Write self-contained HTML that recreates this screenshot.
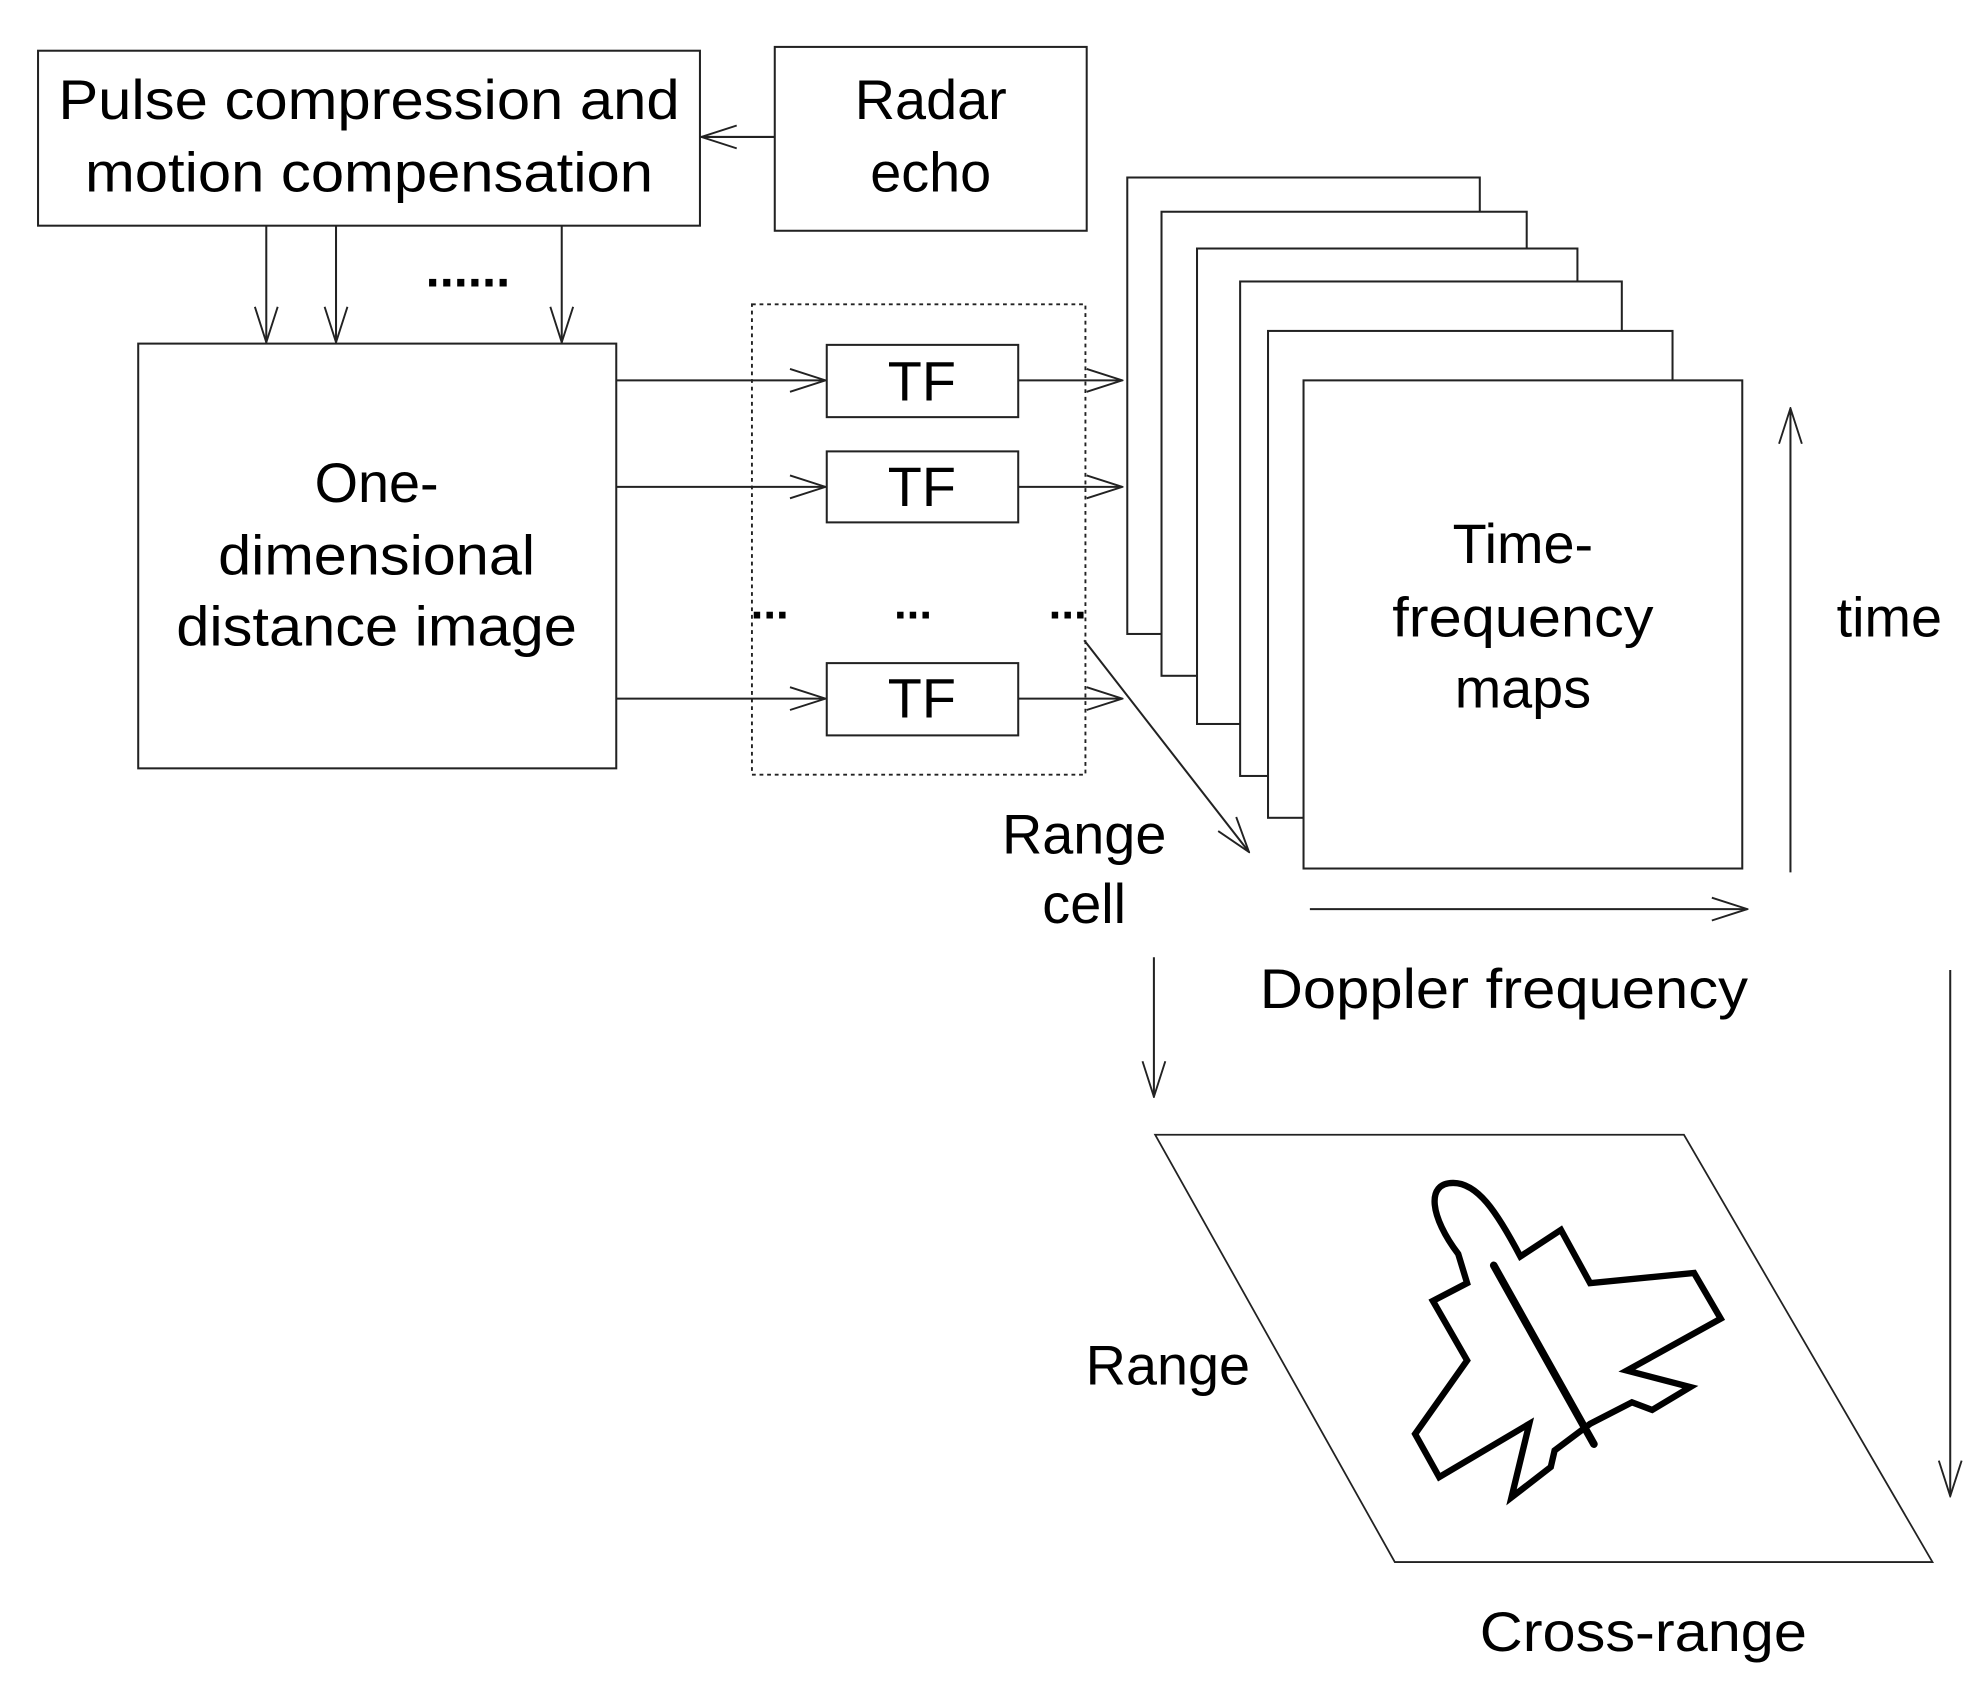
<!DOCTYPE html>
<html><head><meta charset="utf-8"><style>html,body{margin:0;padding:0;background:#fff}svg{display:block}</style></head>
<body>
<svg width="1987" height="1699" viewBox="0 0 1567 1340" preserveAspectRatio="none" xmlns="http://www.w3.org/2000/svg" font-family="Liberation Sans, Arial, sans-serif" fill="none" stroke="#222">
<defs>
<marker id="a" viewBox="0 0 30 20" refX="29" refY="10" markerWidth="30" markerHeight="20" markerUnits="userSpaceOnUse" orient="auto"><path d="M1 1 L29 10 L1 19" fill="none" stroke="#222" stroke-width="1.5"/></marker>
</defs>
<g stroke-width="1.6">
<rect x="30" y="40" width="522" height="138"/>
<rect x="611" y="37" width="246" height="145"/>
<line x1="611" y1="108" x2="553" y2="108" marker-end="url(#a)"/>
<line x1="210" y1="178" x2="210" y2="270" marker-end="url(#a)"/>
<line x1="265" y1="178" x2="265" y2="270" marker-end="url(#a)"/>
<line x1="443" y1="178" x2="443" y2="270" marker-end="url(#a)"/>
<rect x="109" y="271" width="377" height="335"/>
<rect x="593" y="240" width="263" height="371" stroke-dasharray="3,3" stroke-width="1.5"/>
<rect x="652" y="272" width="151" height="57"/>
<rect x="652" y="356" width="151" height="56"/>
<rect x="652" y="523" width="151" height="57"/>
<line x1="486" y1="300" x2="651" y2="300" marker-end="url(#a)"/>
<line x1="486" y1="384" x2="651" y2="384" marker-end="url(#a)"/>
<line x1="486" y1="551" x2="651" y2="551" marker-end="url(#a)"/>
<line x1="803" y1="300" x2="885" y2="300" marker-end="url(#a)"/>
<line x1="803" y1="384" x2="885" y2="384" marker-end="url(#a)"/>
<line x1="803" y1="551" x2="885" y2="551" marker-end="url(#a)"/>
<line x1="855" y1="505" x2="985" y2="672" marker-end="url(#a)"/>
<g fill="#fff">
<rect x="889" y="140" width="278" height="360"/>
<rect x="916" y="167" width="288" height="366"/>
<rect x="944" y="196" width="300" height="375"/>
<rect x="978" y="222" width="301" height="390"/>
<rect x="1000" y="261" width="319" height="384"/>
<rect x="1028" y="300" width="346" height="385"/>
</g>
<line x1="1412" y1="688" x2="1412" y2="322" marker-end="url(#a)"/>
<line x1="1033" y1="717" x2="1378" y2="717" marker-end="url(#a)"/>
<line x1="910" y1="755" x2="910" y2="865" marker-end="url(#a)"/>
<line x1="1538" y1="765" x2="1538" y2="1180" marker-end="url(#a)"/>
<polygon points="911,895 1328,895 1524,1232 1100,1232" stroke-width="1.4"/>
</g>
<g stroke="#000" stroke-width="5" stroke-linejoin="miter">
<path d="M1150,989 C1128,960 1124,933 1146,933 C1165,933 1180,955 1199,991 L1231,970 L1254,1012 L1336,1004 L1357,1040 L1283,1081 L1333,1094 L1303,1112 L1287,1106 L1254,1123 L1226,1144 L1223,1157 L1192,1181 L1206,1123 L1135,1165 L1116,1131 L1157,1073 L1130,1026 L1157,1012 Z"/>
<line x1="1178" y1="998" x2="1257" y2="1139" stroke-width="6" stroke-linecap="round"/>
</g>
<g fill="#000" stroke="none" font-size="44" text-anchor="middle">
<text x="291" y="94" textLength="490" lengthAdjust="spacingAndGlyphs">Pulse compression and</text>
<text x="291" y="151" textLength="448" lengthAdjust="spacingAndGlyphs">motion compensation</text>
<text x="734" y="94">Radar</text>
<text x="734" y="151">echo</text>
<text x="369" y="226" font-size="40" font-weight="bold">......</text>
<text x="297" y="396">One-</text>
<text x="297" y="453" textLength="250" lengthAdjust="spacingAndGlyphs">dimensional</text>
<text x="297" y="509" textLength="316" lengthAdjust="spacingAndGlyphs">distance image</text>
<text x="727" y="316">TF</text>
<text x="727" y="399">TF</text>
<text x="727" y="566">TF</text>
<text x="607" y="488" font-size="36" font-weight="bold">...</text>
<text x="720" y="488" font-size="36" font-weight="bold">...</text>
<text x="842" y="488" font-size="36" font-weight="bold">...</text>
<text x="1201" y="444">Time-</text>
<text x="1201" y="502" textLength="206" lengthAdjust="spacingAndGlyphs">frequency</text>
<text x="1201" y="558">maps</text>
<text x="1490" y="502">time</text>
<text x="855" y="673">Range</text>
<text x="855" y="728">cell</text>
<text x="1186" y="795" textLength="385" lengthAdjust="spacingAndGlyphs">Doppler frequency</text>
<text x="921" y="1092">Range</text>
<text x="1296" y="1302" textLength="258" lengthAdjust="spacingAndGlyphs">Cross-range</text>
</g>
</svg>
</body></html>
